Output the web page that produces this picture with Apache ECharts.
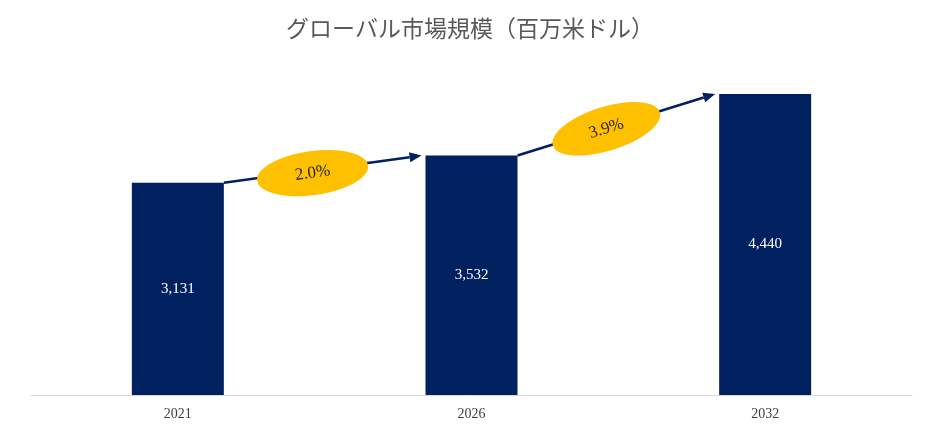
<!DOCTYPE html>
<html>
<head>
<meta charset="utf-8">
<script src="https://cdn.jsdelivr.net/npm/echarts@6/dist/echarts.min.js"></script>
<style>html,body{margin:0;padding:0;background:#fff}#chart{width:940px;height:427px}</style>
</head>
<body>
<div id="chart"></div>
<script>
const years = ['2021', '2026', '2032'];
const marketSize = [3131, 3532, 4440];
const cagrLabels = ['2.0%', '3.9%'];

const chart = echarts.init(document.getElementById('chart'));
const BAR_W = 92;
const serif = '"Liberation Serif", "Times New Roman", "Noto Sans CJK JP", serif';

const arrowData = cagrLabels.map((t, i) => [i, marketSize[i], i + 1, marketSize[i + 1], t]);

chart.setOption({
    animation: false,
    title: {
        text: 'グローバル市場規模（百万米ドル）',
        left: 'center', top: 14,
        textStyle: { fontFamily: serif, fontSize: 23, fontWeight: 'normal', color: '#595959' }
    },
    grid: { left: 31, right: 28, top: 94, bottom: 32 },
    xAxis: {
        type: 'category', data: years,
        axisLine: { lineStyle: { color: '#d9d9d9' } },
        axisTick: { show: false },
        axisLabel: { fontFamily: serif, fontSize: 14, color: '#404040', margin: 12 }
    },
    yAxis: { type: 'value', min: 0, max: 4440, show: false, splitLine: { show: false } },
    series: [
        {
            type: 'bar', data: marketSize, barWidth: BAR_W,
            itemStyle: { color: '#002060' },
            label: {
                show: true, position: 'inside', fontFamily: serif, fontSize: 15, color: '#fff',
                formatter: p => p.value.toLocaleString('en-US')
            }
        },
        {
            type: 'custom', data: arrowData, z: 5,
            renderItem: (params, api) => {
                const a = api.coord([api.value(0), api.value(1)]);
                const b = api.coord([api.value(2), api.value(3)]);
                const x1 = a[0] + BAR_W / 2, y1 = a[1];
                const x2 = b[0] - BAR_W / 2 - 4, y2 = b[1];
                const ang = Math.atan2(y2 - y1, x2 - x1);
                const hl = 12, hw = 5;
                const bx = x2 - hl * Math.cos(ang), by = y2 - hl * Math.sin(ang);
                const px = -Math.sin(ang) * hw, py = Math.cos(ang) * hw;
                const mx = (x1 + x2) / 2 - 10, my = (y1 + y2) / 2 + 4;
                return {
                    type: 'group',
                    children: [
                        { type: 'line', shape: { x1, y1, x2: bx, y2: by }, style: { stroke: '#002060', lineWidth: 2.5 } },
                        { type: 'polygon', shape: { points: [[x2, y2], [bx + px, by + py], [bx - px, by - py]] }, style: { fill: '#002060' } },
                        {
                            type: 'ellipse', x: mx, y: my, rotation: -ang,
                            shape: { cx: 0, cy: 0, rx: 56, ry: 22 },
                            style: { fill: '#FFC000' }
                        },
                        {
                            type: 'text', x: mx, y: my, rotation: -ang,
                            style: { text: api.value(4), fontFamily: serif, fontSize: 17, fill: '#262626', align: 'center', verticalAlign: 'middle' }
                        }
                    ]
                };
            }
        }
    ]
});
</script>
</body>
</html>
